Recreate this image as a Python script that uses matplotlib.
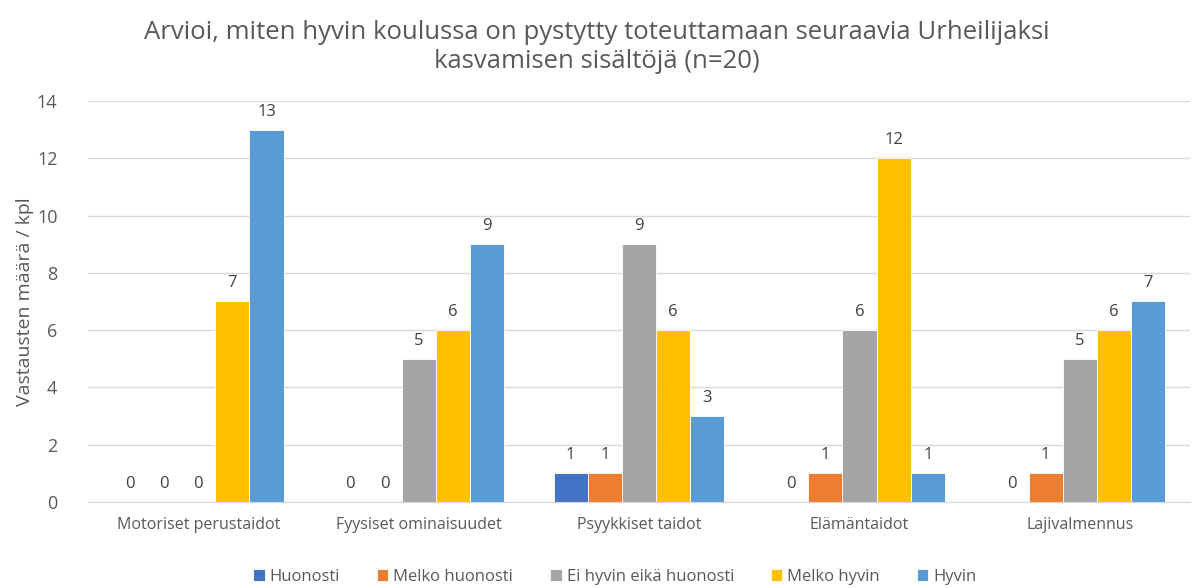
import numpy as np
import matplotlib.pyplot as plt

plt.rcParams['font.family'] = ['Open Sans', 'DejaVu Sans']

kategoriat = ['Motoriset perustaidot', 'Fyysiset ominaisuudet', 'Psyykkiset taidot',
              'Elämäntaidot', 'Lajivalmennus']
sarjat = ['Huonosti', 'Melko huonosti', 'Ei hyvin eikä huonosti', 'Melko hyvin', 'Hyvin']
huonosti = [0, 0, 1, 0, 0]
melko_huonosti = [0, 0, 1, 1, 1]
ei_hyvin_eika_huonosti = [0, 5, 9, 6, 5]
melko_hyvin = [7, 6, 6, 12, 6]
hyvin = [13, 9, 3, 1, 7]
arvot = [huonosti, melko_huonosti, ei_hyvin_eika_huonosti, melko_hyvin, hyvin]
varit = ['#4472C4', '#ED7D31', '#A5A5A5', '#FFC000', '#5B9BD5']

teksti = '#595959'
fig = plt.figure(figsize=(11.93, 5.88), dpi=100)
ax = fig.add_axes([0.0738, 0.1463, 0.9237, 0.6819])

x = np.arange(len(kategoriat))
w = 0.155
for i, (nimi, data, vari) in enumerate(zip(sarjat, arvot, varit)):
    pos = x + (i - 2) * w
    bars = ax.bar(pos, data, w, color=vari, label=nimi, edgecolor='white', linewidth=0.6, zorder=2)
    for b, v in zip(bars, data):
        ax.text(b.get_x() + b.get_width() / 2, v + 0.35, str(v), ha='center', va='bottom',
                fontsize=12, color='#404040')

ax.set_xlim(-0.5, 4.5)
ax.set_ylim(0, 14)
ax.set_yticks(range(0, 15, 2))
ax.grid(axis='y', color='#D9D9D9', linewidth=1, zorder=0)
ax.set_xticks(x)
ax.set_xticklabels(kategoriat, fontsize=11.5, color=teksti)
ax.tick_params(axis='y', labelsize=13, colors=teksti, length=0, pad=22)
ax.tick_params(axis='x', length=0, pad=11)
for s in ['top', 'right', 'left']:
    ax.spines[s].set_visible(False)
ax.spines['bottom'].set_color('#D9D9D9')
ax.set_ylabel('Vastausten määrä / kpl', fontsize=14, color=teksti, labelpad=2)

fig.text(0.5, 0.92, 'Arvioi, miten hyvin koulussa on pystytty toteuttamaan seuraavia Urheilijaksi\nkasvamisen sisältöjä (n=20)',
         fontsize=18.5, color=teksti, ha='center', va='center', linespacing=1.25)

leg = ax.legend(loc='center', bbox_to_anchor=(0.478, -0.187), ncol=5, frameon=False,
                fontsize=12, handlelength=0.7, handleheight=0.7, handletextpad=0.3, columnspacing=2.2)
for t in leg.get_texts():
    t.set_color(teksti)

fig.savefig('out.png', dpi=100)
